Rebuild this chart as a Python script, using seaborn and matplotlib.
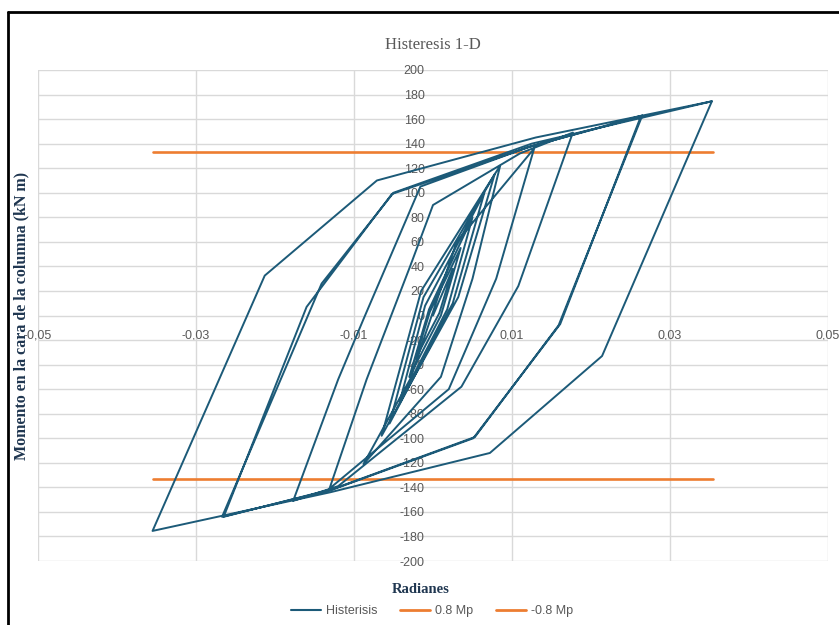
import numpy as np
import pandas as pd
import seaborn as sns
import matplotlib.pyplot as plt
from matplotlib.lines import Line2D
from matplotlib.ticker import FuncFormatter

# giro (rad) y momento (kN m), en el orden del ensayo
rad = [0, 0.0025, 0.0008, -0.0022, -0.0004, 0.0035, 0.0010, -0.0030, -0.0005,
       0.0050, 0.0018, -0.0042, -0.0010, 0.0065, 0.0025, -0.0055, -0.0012,
       0.0078, 0.0032, -0.0065, -0.0015, 0.0080,
       0.0085, 0.0050, 0.0010, -0.0088, -0.0029, 0.0030,
       0.0128, 0.0080, 0.0020, -0.0131, -0.0084, -0.0029, 0.0000, 0.0110,
       0.0177, 0.0108, 0.0036, -0.0120, -0.0177, -0.0120, -0.0088, -0.0016, 0.0120,
       0.0265, 0.0159, 0.0053, -0.0125, -0.0265, -0.0160, -0.0052, 0.0125,
       0.0263, 0.0161, 0.0051, -0.0128, -0.0267, -0.0141, -0.0050, 0.0125,
       0.0353, 0.0214, 0.0072, -0.0130, -0.0355, -0.0213, -0.0071, 0.0130, 0.0353]
momento = [0, 38, 2, -35, 3, 55, 0, -50, 5,
           80, 5, -70, 8, 100, 10, -88, 15,
           115, 15, -98, 20, 117,
           122, 30, -50, -121, -52, 60,
           136, 30, -60, -141, -52, 40, 90, 132,
           149, 24, -58, -139, -151, -52, -3, 105, 137,
           163, -8, -99, -141, -164, 7, 99, 138,
           162, -7, -100, -142, -164, 26, 100, 140,
           174.5, -33, -112, -144, -175.5, 32.5, 110, 145, 174.5]

mp_pos = 133
mp_neg = -133
mp_x = [-0.0355, 0.0355]

x_ticks = [-0.05, -0.03, -0.01, 0.01, 0.03, 0.05]
y_ticks = list(range(-200, 201, 20))

df = pd.DataFrame({'rad': rad, 'M': momento, 'serie': 'Histerisis'})

sns.set_style('white')
plt.rcParams['font.family'] = ['Liberation Sans', 'DejaVu Sans']

fig = plt.figure(figsize=(8.39, 6.25), dpi=100)
ax = fig.add_axes([38/839, 1-561/625, 790/839, 491/625])

blue = '#1c5a78'
orange = '#ed7d31'
gray = '#595959'
navy = '#1f3650'

sns.lineplot(data=df, x='rad', y='M', sort=False, estimator=None,
             color=blue, lw=1.4, ax=ax, legend=False, zorder=3)
sns.lineplot(x=mp_x, y=[mp_pos]*2, color=orange, lw=1.9, ax=ax, zorder=2)
sns.lineplot(x=mp_x, y=[mp_neg]*2, color=orange, lw=1.9, ax=ax, zorder=2)

ax.set_xlim(-0.05, 0.05)
ax.set_ylim(-200, 200)
ax.set_xticks(x_ticks)
ax.set_yticks(y_ticks)
ax.xaxis.set_major_formatter(FuncFormatter(lambda v, p: f'{v:.2f}'.replace('.', ',')))
ax.yaxis.set_major_formatter(FuncFormatter(lambda v, p: f'{v:.0f}'))
ax.grid(True, color='#d9d9d9', lw=1)
ax.spines['left'].set_position(('data', 0))
ax.spines['bottom'].set_position(('data', 0))
for s in ax.spines.values():
    s.set_visible(False)
ax.tick_params(length=0, labelsize=9, labelcolor=gray)
ax.tick_params(axis='x', pad=10)
ax.tick_params(axis='y', pad=6)

ax.set_title('Histeresis 1-D', family='Liberation Serif', fontsize=12,
             color=gray, pad=15)
ax.set_xlabel('Radianes', family='Liberation Serif', fontweight='bold',
              fontsize=10.5, color=navy)
ax.set_ylabel('Momento en la cara de la columna (kN m)', family='Liberation Serif',
              fontweight='bold', fontsize=11.5, color=navy)
ax.xaxis.set_label_coords(0.485, -0.045)
ax.yaxis.set_label_coords(-0.011, 0.5)

handles = [Line2D([], [], color=blue, lw=1.5),
           Line2D([], [], color=orange, lw=2),
           Line2D([], [], color=orange, lw=2)]
fig.legend(handles, ['Histerisis', '0.8 Mp', '-0.8 Mp'], loc='lower center',
           bbox_to_anchor=(0.515, -0.005), ncol=3, frameon=False, fontsize=9,
           labelcolor=gray, handlelength=2.4, columnspacing=1.8, handletextpad=0.4)

# marco negro del recorte (arriba e izquierda)
fig.add_artist(Line2D([8/839, 1], [1-12/625]*2, color='black', lw=2))
fig.add_artist(Line2D([8/839]*2, [0, 1-12/625], color='black', lw=2))

fig.savefig('out.png', dpi=100)
